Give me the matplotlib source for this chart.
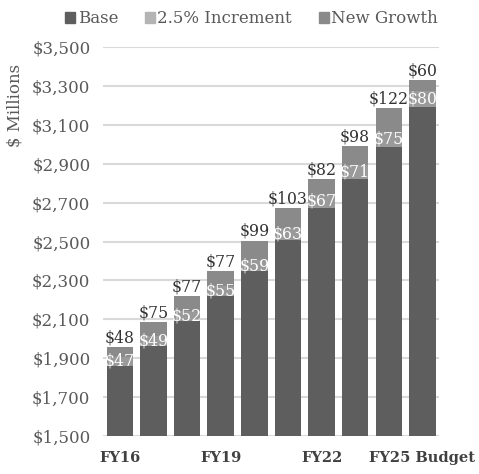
import matplotlib.pyplot as plt
import numpy as np

# data ($ millions)
years = ["FY16", "FY17", "FY18", "FY19", "FY20", "FY21", "FY22", "FY23", "FY24", "FY25 Budget"]
tick_labels = ["FY16", "", "", "FY19", "", "", "FY22", "", "", "FY25 Budget"]
base = [1861, 1964, 2090, 2218, 2347, 2506, 2674, 2820, 2987, 3191]
increment = [47, 49, 52, 55, 59, 63, 67, 71, 75, 80]
new_growth = [48, 75, 77, 77, 99, 103, 82, 98, 122, 60]

plt.rcParams['font.family'] = ['DejaVu Serif']

c_base = '#5e5e5e'
c_inc = '#9a9a9a'
c_new = '#8a8a8a'
txt = '#595959'

fig = plt.figure(figsize=(4.79, 4.74), dpi=100)
ax = fig.add_axes([0.215, 0.080, 0.702, 0.821])

x = np.arange(len(years))
w = 0.79
ax.bar(x, base, w, color=c_base, zorder=2)
ax.bar(x, increment, w, bottom=base, color=c_inc, zorder=2)
bottom2 = np.array(base) + np.array(increment)
ax.bar(x, new_growth, w, bottom=bottom2, color=c_new, zorder=2)

# labels
for i in range(len(years)):
    ax.text(x[i], base[i] + increment[i] / 2, f"${increment[i]}", ha='center', va='center',
            color='white', fontsize=11.3, zorder=3)
    ax.text(x[i], bottom2[i] + new_growth[i] + 3, f"${new_growth[i]}", ha='center', va='bottom',
            color='#333333', fontsize=11.3, zorder=3)

ax.set_ylim(1500, 3500)
ax.set_xlim(-0.5, len(years) - 0.5)
yt = np.arange(1500, 3501, 200)
ax.set_yticks(yt)
ax.set_yticklabels([f"${v:,}" for v in yt], color=txt, fontsize=12)
ax.set_xticks(x)
ax.set_xticklabels(tick_labels, fontweight='bold', color='#404040', fontsize=10.5)
ax.tick_params(length=0)
ax.tick_params(axis='y', pad=9)
ax.tick_params(axis='x', pad=11)
ax.grid(axis='y', color='#d9d9d9', linewidth=1.5, zorder=0)
for s in ax.spines.values():
    s.set_visible(False)

ax.set_ylabel("$ Millions", color=txt, fontsize=12)
ax.yaxis.set_label_coords(-0.235, 0.85)

handles = [plt.Rectangle((0, 0), 1, 1, color=c) for c in [c_base, '#b4b4b4', c_new]]
fig.legend(handles, ["Base", "2.5% Increment", "New Growth"], loc='upper center',
           bbox_to_anchor=(0.525, 1.01), ncol=3, frameon=False, fontsize=12,
           handlelength=0.6, handleheight=0.6, handletextpad=0.15, columnspacing=1.6,
           labelcolor=txt)

fig.savefig("out.png", dpi=100)
